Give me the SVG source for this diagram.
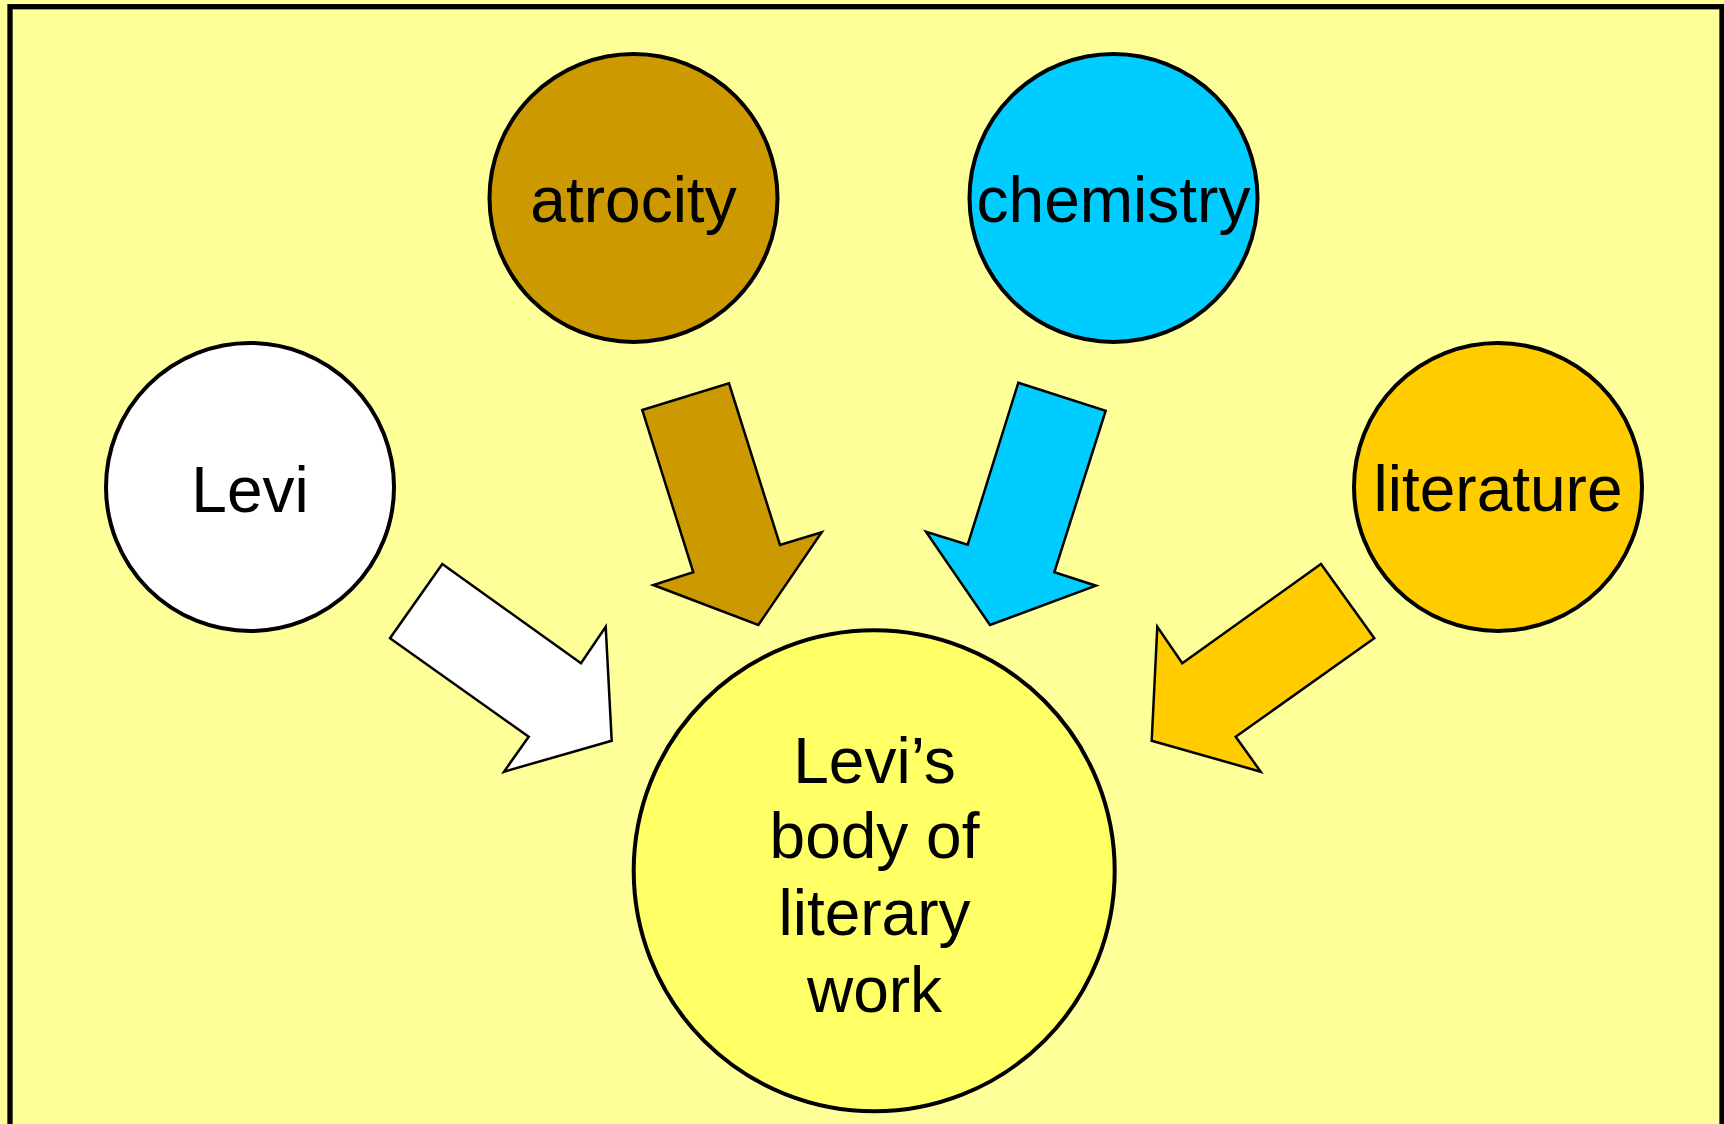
<svg xmlns="http://www.w3.org/2000/svg" width="1724" height="1124" viewBox="0 0 1724 1124">
<style>
.node circle{stroke:#000;stroke-width:4}
.lbl{font-family:"Liberation Sans",Arial,sans-serif;font-size:64px;fill:#000;text-anchor:middle}
.arrow{stroke:#000;stroke-width:2.5;stroke-linejoin:miter}
</style>
<rect x="0" y="0" width="1724" height="1124" fill="#FFFF99"/>
<rect x="10" y="6.7" width="1712" height="1200" fill="#FFFF99" stroke="#000" stroke-width="5.3"/>
<g id="connectors">
<polygon class="arrow" fill="#FFFFFF" points="442.3,564 581,663.3 605.7,626.7 611.7,740.7 504,771.7 528.7,736.7 390,638.3"/>
<polygon class="arrow" fill="#CC9900" points="642.3,410 729,383.3 780,545 821.7,532.3 758.3,625 653.3,585 693.3,572.3"/>
<polygon class="arrow" fill="#00CCFF" points="1018.3,382.7 1105.7,410.7 1054.3,572.3 1096,585.7 990,625 926,531.7 967.7,544.7"/>
<polygon class="arrow" fill="#FFCC00" points="1321,564 1374.3,638.3 1235.7,736.7 1260.7,771.7 1151.7,740.7 1157.3,626.7 1182.3,663.3"/>
</g>
<g id="levi" class="node">
<circle cx="250" cy="487" r="144" fill="#FFFFFF"/>
<text class="lbl" x="250" y="511.5">Levi</text>
</g>
<g id="atrocity" class="node">
<circle cx="633.5" cy="198" r="144" fill="#CC9900"/>
<text class="lbl" x="633.5" y="221.7">atrocity</text>
</g>
<g id="chemistry" class="node">
<circle cx="1113.5" cy="198" r="144" fill="#00CCFF"/>
<text class="lbl" x="1113.5" y="221.7">chemistry</text>
</g>
<g id="literature" class="node">
<circle cx="1498" cy="487" r="144" fill="#FFCC00"/>
<text class="lbl" x="1498" y="511">literature</text>
</g>
<g id="body" class="node">
<circle cx="874.2" cy="870.8" r="240.5" fill="#FFFF66"/>
<text class="lbl" x="874.5" y="782.7">Levi’s</text>
<text class="lbl" x="874.5" y="858.3">body of</text>
<text class="lbl" x="874.5" y="935">literary</text>
<text class="lbl" x="874.5" y="1011.7">work</text>
</g>
</svg>
